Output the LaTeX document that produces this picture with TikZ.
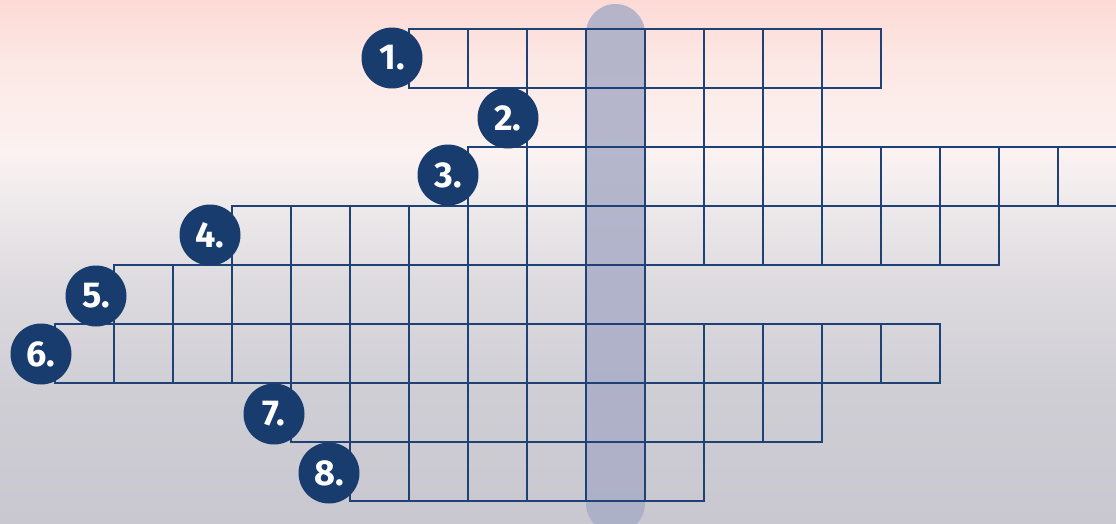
\documentclass[tikz,border=0pt]{standalone}
\usepackage{fontspec}
\newfontfamily\numfont{Fira Sans}
\definecolor{bgA}{HTML}{FDDAD5}
\definecolor{bgB}{HTML}{FCE8E5}
\definecolor{bgC}{HTML}{FBF2F1}
\definecolor{bgD}{HTML}{EFEBEC}
\definecolor{bgE}{HTML}{DEDBDF}
\definecolor{bgF}{HTML}{CFCED5}
\definecolor{bgG}{HTML}{C9C8D0}
\definecolor{gridc}{HTML}{1E4275}
\definecolor{navy}{HTML}{183C6D}
\definecolor{hilite}{HTML}{A9ADC6}
% positions from bottom: 25bp = y 523 (bottom), 75bp = y 0 (top)
\pgfdeclareverticalshading{bgshade}{100bp}{%
  color(0bp)=(bgG); color(25bp)=(bgG);
  color(37.5bp)=(bgF);
  color(48bp)=(bgE);
  color(56bp)=(bgD);
  color(60.5bp)=(bgC);
  color(69bp)=(bgB);
  color(75bp)=(bgA); color(100bp)=(bgA)}
\tikzset{
  gridline/.style={draw=gridc, line width=1.8pt},
  numcirc/.style={circle, fill=navy, minimum size=61pt, inner sep=0pt,
    text=white, font=\numfont\bfseries\fontsize{36}{36}\selectfont},
  hibar/.style={fill=hilite, fill opacity=0.85, rounded corners=29.5pt}
}
\newcommand{\gridrow}[3]{% #1 = left x, #2 = top y, #3 = number of cells
  \foreach \k in {1,...,#3}{
    \draw[gridline] ({#1+(\k-1)*59},#2) rectangle ({#1+\k*59},{#2+59});
  }
}
\begin{document}
\begin{tikzpicture}[x=1pt,y=-1pt]
\useasboundingbox (0,0) rectangle (1116,523);
\shade[shading=bgshade] (0,0) rectangle (1116,523);
\begin{scope}
\clip (0,0) rectangle (1116,523);
% highlighted column
\fill[hibar] (586,4) rectangle (645,533);
% grid rows
\gridrow{409}{29}{8}
\gridrow{527}{88}{5}
\gridrow{468}{147}{11}
\gridrow{232}{206}{13}
\gridrow{114}{265}{9}
\gridrow{55}{324}{15}
\gridrow{291}{383}{9}
\gridrow{350}{442}{6}
\end{scope}
% number circles
\node[numcirc] (n1) at (392,58) {1.};
\node[numcirc] (n2) at (508,118) {2.};
\node[numcirc] (n3) at (448,175) {3.};
\node[numcirc] (n4) at (210,235) {4.};
\node[numcirc] (n5) at (96,296) {5.};
\node[numcirc] (n6) at (41,354) {6.};
\node[numcirc] (n7) at (274,414) {7.};
\node[numcirc] (n8) at (329,473) {8.};
\end{tikzpicture}
\end{document}
